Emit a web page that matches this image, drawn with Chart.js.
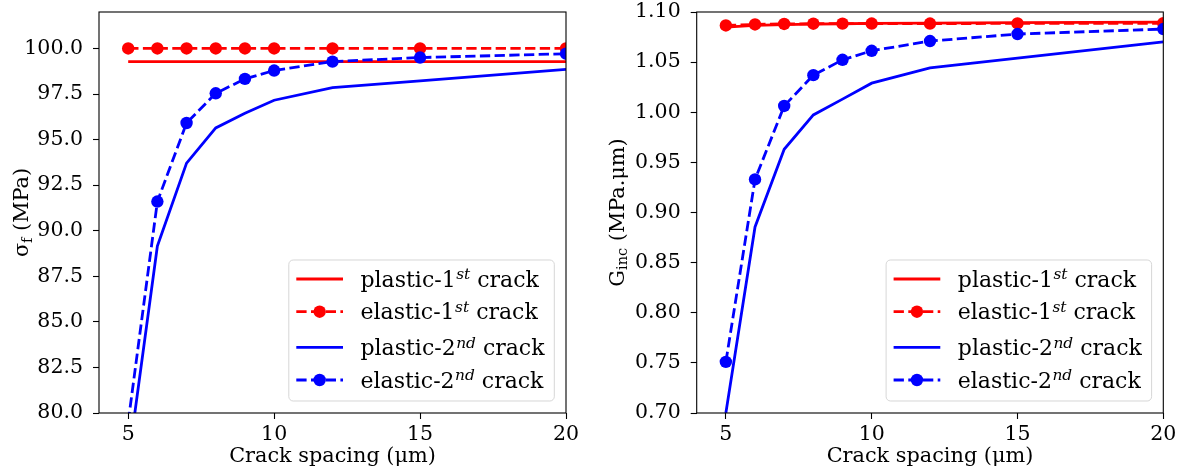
<!DOCTYPE html>
<html><head><meta charset="utf-8">
<script src="https://cdn.jsdelivr.net/npm/chart.js@4/dist/chart.umd.min.js"></script>
<style>
html,body{margin:0;padding:0;background:#fff;overflow:hidden}
#wrap{position:relative;width:1188px;height:473px;background:#fff}
canvas{position:absolute;top:0}
#c1{left:0}
#c2{left:594px}
</style></head><body>
<div id="wrap"><canvas id="c1" width="594" height="473"></canvas><canvas id="c2" width="594" height="473"></canvas></div>
<script>
// ---- data ----
const crackSpacing = [5, 6, 7, 8, 9, 10, 12, 15, 20];
const xTicks = [5, 10, 15, 20];

const sigmaPlastic1st = [99.28, 99.28, 99.28, 99.28, 99.28, 99.28, 99.28, 99.28, 99.28];
const sigmaElastic1st = [100.0, 100.0, 100.0, 100.0, 100.0, 100.0, 100.0, 100.0, 100.0];
const sigmaPlastic2nd = [77.3, 89.16, 93.71, 95.64, 96.45, 97.16, 97.85, 98.22, 98.85];
const sigmaElastic2nd = [79.5, 91.6, 95.91, 97.54, 98.33, 98.79, 99.28, 99.50, 99.71];
const sigmaTicks = [80.0, 82.5, 85.0, 87.5, 90.0, 92.5, 95.0, 97.5, 100.0];

const gPlastic1st = [1.0850, 1.0866, 1.0874, 1.0879, 1.0883, 1.0886, 1.0890, 1.0894, 1.0900];
const gElastic1st = [1.0866, 1.0876, 1.0881, 1.0883, 1.0884, 1.0885, 1.0885, 1.0886, 1.0888];
const gPlastic2nd = [0.700, 0.8856, 0.963, 0.9973, 1.0131, 1.029, 1.0443, 1.054, 1.0703];
const gElastic2nd = [0.751, 0.933, 1.0063, 1.037, 1.0523, 1.0613, 1.071, 1.078, 1.083];
const gTicks = [0.70, 0.75, 0.80, 0.85, 0.90, 0.95, 1.00, 1.05, 1.10];

const seriesLabels = ['plastic-1st crack', 'elastic-1st crack', 'plastic-2nd crack', 'elastic-2nd crack'];
const legendParts = [['plastic-1', 'st', ' crack'], ['elastic-1', 'st', ' crack'], ['plastic-2', 'nd', ' crack'], ['elastic-2', 'nd', ' crack']];
const seriesColors = ['#ff0000', '#ff0000', '#0000ff', '#0000ff'];
const seriesDashed = [false, true, false, true];
const seriesMarkers = [false, true, false, true];
const xTitle = 'Crack spacing (μm)';
const leftYTitle = [['σ', false], ['f', true], [' (MPa)', false]];
const rightYTitle = [['G', false], ['inc', true], [' (MPa.μm)', false]];

// ---- drawing ----
const FAM = "'DejaVu Serif', serif";

const deco = {
  id: 'deco',
  afterDatasetsDraw(chart, args, o) {
    const ctx = chart.ctx, a = chart.chartArea;
    ctx.save();
    // spines
    ctx.strokeStyle = '#000';
    ctx.lineWidth = 1.1;
    ctx.setLineDash([]);
    ctx.strokeRect(a.left, a.top, a.right - a.left, a.bottom - a.top);

    // y title with subscript
    ctx.save();
    const cy = (a.top + a.bottom) / 2;
    ctx.translate(o.yTitleX, cy);
    ctx.rotate(-Math.PI / 2);
    ctx.fillStyle = '#000';
    ctx.textBaseline = 'alphabetic';
    ctx.textAlign = 'left';
    const fMain = '20.8px ' + FAM, fSub = '14.6px ' + FAM;
    let total = 0;
    o.yTitle.forEach(([t, sub]) => { ctx.font = sub ? fSub : fMain; total += ctx.measureText(t).width; });
    let tx = -total / 2;
    o.yTitle.forEach(([t, sub]) => {
      ctx.font = sub ? fSub : fMain;
      ctx.fillText(t, tx, sub ? 3.5 : 0);
      tx += ctx.measureText(t).width;
    });
    ctx.restore();

    // legend
    const bw = 265.5, bh = 141;
    const bx = a.right - 11.7 - bw, by = a.bottom - 12 - bh;
    ctx.beginPath();
    ctx.roundRect(bx, by, bw, bh, 4.4);
    ctx.fillStyle = 'rgba(255,255,255,0.8)';
    ctx.fill();
    ctx.strokeStyle = 'rgba(204,204,204,0.8)';
    ctx.lineWidth = 1;
    ctx.stroke();
    const rows = [19, 51.7, 87.3, 120];
    chart.data.datasets.forEach((ds, i) => {
      const y = by + rows[i];
      const x0 = bx + 7.5, x1 = bx + 54.2;
      ctx.strokeStyle = ds.borderColor;
      ctx.lineWidth = ds.borderWidth;
      ctx.setLineDash(ds.borderDash || []);
      ctx.beginPath(); ctx.moveTo(x0, y); ctx.lineTo(x1, y); ctx.stroke();
      ctx.setLineDash([]);
      if (ds.pointRadius > 0) {
        ctx.fillStyle = ds.pointBackgroundColor;
        ctx.beginPath(); ctx.arc((x0 + x1) / 2, y, ds.pointRadius, 0, Math.PI * 2); ctx.fill();
      }
      const parts = legendParts[i];
      let lx = bx + 71.7;
      const base = y + 7.7;
      ctx.fillStyle = '#000';
      ctx.textBaseline = 'alphabetic';
      ctx.textAlign = 'left';
      ctx.font = '22px ' + FAM;
      ctx.fillText(parts[0], lx, base); lx += ctx.measureText(parts[0]).width;
      ctx.font = 'italic 15.4px ' + FAM;
      ctx.fillText(parts[1], lx + 0.5, base - 7.4); lx += ctx.measureText(parts[1]).width + 0.5;
      ctx.font = '22px ' + FAM;
      ctx.fillText(parts[2], lx, base);
    });
    ctx.restore();
  }
};

function makeChart(id, cfg) {
  const datasets = cfg.series.map((s, i) => ({
    label: seriesLabels[i],
    data: crackSpacing.map((x, j) => ({ x: x, y: s[j] })),
    borderColor: seriesColors[i],
    backgroundColor: seriesColors[i],
    pointBackgroundColor: seriesColors[i],
    pointBorderColor: seriesColors[i],
    pointBorderWidth: 0,
    borderWidth: 2.8,
    borderDash: seriesDashed[i] ? [10.3, 4.4] : [],
    pointRadius: seriesMarkers[i] ? 6.2 : 0,
    pointHoverRadius: seriesMarkers[i] ? 6.2 : 0,
    tension: 0,
    fill: false,
    order: 4 - i
  }));
  const tickGrid = { drawOnChartArea: false, drawTicks: true, tickLength: 6, tickColor: '#000', tickWidth: 1.1, display: true };
  return new Chart(document.getElementById(id), {
    type: 'line',
    data: { datasets },
    options: {
      responsive: false,
      animation: false,
      events: [],
      layout: { padding: { left: 0, right: cfg.padRight, top: 12, bottom: 0 } },
      plugins: {
        legend: { display: false },
        tooltip: { enabled: false },
        deco: { yTitle: cfg.yTitle, yTitleX: cfg.yTitleX }
      },
      scales: {
        x: {
          type: 'linear', min: 4, max: 20,
          afterBuildTicks(s) { s.ticks = xTicks.map(v => ({ value: v })); },
          afterFit(s) { s.height = 60; s.paddingLeft = 0; s.paddingRight = 0; },
          grid: tickGrid,
          border: { display: false },
          ticks: { color: '#000', font: { family: FAM, size: 20.5 }, padding: 3, maxRotation: 0, autoSkip: false,
                   callback: v => String(v) },
          title: { display: true, text: xTitle, color: '#000', font: { family: FAM, size: 20.8 }, padding: { top: 0, bottom: 4 } }
        },
        y: {
          type: 'linear', min: cfg.ymin, max: cfg.ymax,
          afterBuildTicks(s) { s.ticks = cfg.yTicks.map(v => ({ value: v })); },
          afterFit(s) { s.width = cfg.yWidth; s.paddingTop = 0; s.paddingBottom = 0; },
          grid: tickGrid,
          border: { display: false },
          ticks: { color: '#000', font: { family: FAM, size: 20.5 }, padding: 10, autoSkip: false,
                   callback: v => Number(v).toFixed(cfg.dec) }
        }
      }
    },
    plugins: [deco]
  });
}

makeChart('c1', {
  series: [sigmaPlastic1st, sigmaElastic1st, sigmaPlastic2nd, sigmaElastic2nd],
  ymin: 80, ymax: 102, yTicks: sigmaTicks, dec: 1,
  yWidth: 99, padRight: 28, yTitle: leftYTitle, yTitleX: 28.3
});
makeChart('c2', {
  series: [gPlastic1st, gElastic1st, gPlastic2nd, gElastic2nd],
  ymin: 0.70, ymax: 1.10, yTicks: gTicks, dec: 2,
  yWidth: 102.7, padRight: 24.7, yTitle: rightYTitle, yTitleX: 29.5
});
</script>
</body></html>
